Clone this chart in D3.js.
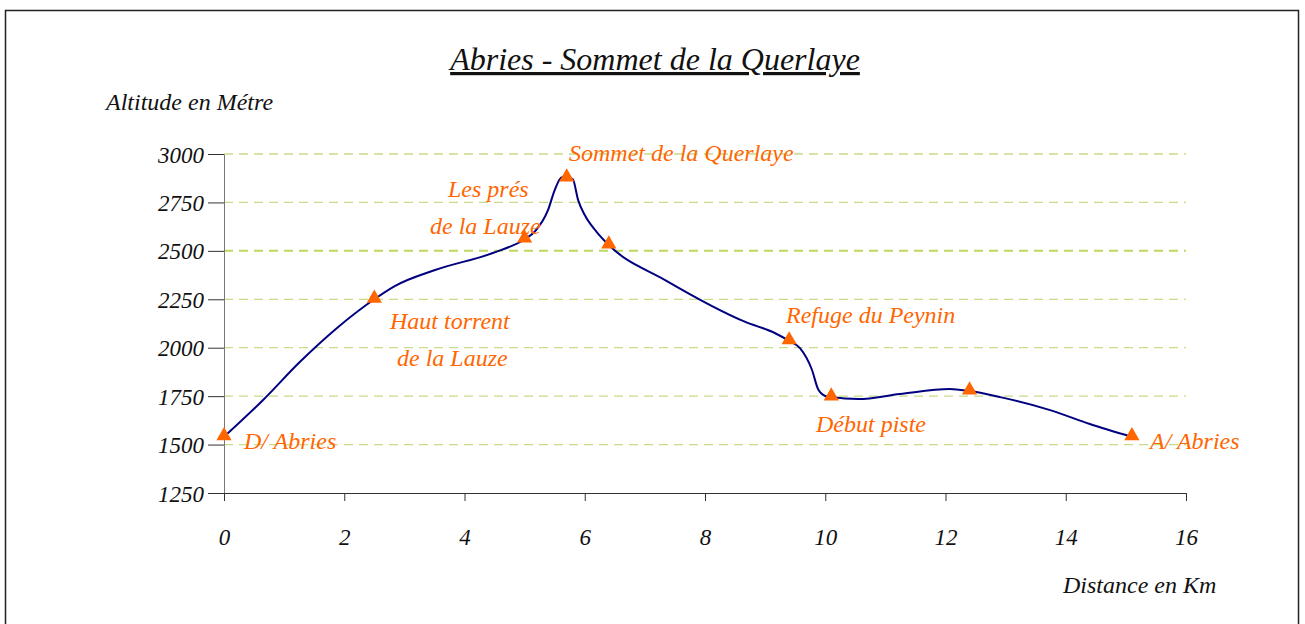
<!DOCTYPE html>
<html>
<head>
<meta charset="utf-8">
<script src="https://cdn.jsdelivr.net/npm/d3@7"></script>
<style>
  body { margin: 0; background: #fff; }
  text { font-family: "Liberation Serif", serif; font-style: italic; }
</style>
</head>
<body>
<svg id="chart" width="1305" height="624"></svg>
<script>
// profil : distance (km) / altitude (m)
let distances = [0, 0.65, 1.26, 1.88, 2.5, 2.84, 3.51, 4.47, 5.0, 5.17, 5.39, 5.5, 5.62, 5.7, 5.8, 5.89, 6.0, 6.2, 6.4, 7.33, 8.67, 9.16, 9.4, 9.58, 9.78, 9.88, 10.0, 10.1, 10.55, 11.24, 12.07, 12.4, 12.91, 13.74, 14.4, 15.1];
let altitudes = [1540, 1730, 1926, 2102, 2250, 2318, 2401, 2489, 2560, 2600, 2711, 2814, 2880, 2878, 2870, 2762, 2685, 2597, 2530, 2350, 2133, 2076, 2035, 1998, 1885, 1787, 1751, 1745, 1735, 1761, 1787, 1776, 1745, 1678, 1606, 1540];

// points de passage
let etapes = ["D/ Abries", "Haut torrent\nde la Lauze", "Les prés\nde la Lauze", "Sommet de la Querlaye", "", "Refuge du Peynin", "Début piste", "", "A/ Abries"];
let etapesKm = [0, 2.5, 5.0, 5.7, 6.4, 9.4, 10.1, 12.4, 15.1];
let etapesAlt = [1540, 2250, 2560, 2876, 2530, 2035, 1745, 1776, 1540];

let xTicks = [0, 2, 4, 6, 8, 10, 12, 14, 16];
let yTicks = [1250, 1500, 1750, 2000, 2250, 2500, 2750, 3000];

let svg = d3.select("#chart");

// cadre
svg.append("rect")
  .attr("x", 5.5).attr("y", 10.5)
  .attr("width", 1293).attr("height", 630)
  .attr("fill", "none").attr("stroke", "#222").attr("stroke-width", 1.5);

let x = d3.scaleLinear().domain([0, 16]).range([224, 1186]);
let y = d3.scaleLinear().domain([1250, 3000]).range([493, 154]);

// grille
svg.append("g").selectAll("line")
  .data(yTicks.filter(d => d > 1250))
  .enter().append("line")
  .attr("x1", x(0)).attr("x2", x(16))
  .attr("y1", d => y(d)).attr("y2", d => y(d))
  .attr("stroke", d => d == 2500 ? "#bcd862" : "#c8dc88")
  .attr("stroke-width", d => d == 2500 ? 2 : 1.3)
  .attr("stroke-dasharray", "9,6");

// axes
let yAxis = svg.append("g")
  .attr("transform", "translate(" + x(0) + ",0)")
  .call(d3.axisLeft(y).tickValues(yTicks).tickFormat(d3.format("d")).tickSize(16).tickPadding(4).tickSizeOuter(0));
yAxis.select(".domain").attr("stroke", "#777");
yAxis.selectAll(".tick line").attr("stroke", "#333");
yAxis.selectAll("text")
  .attr("font-size", 23).attr("fill", "#111")
  .attr("font-family", "Liberation Serif").attr("dy", "0.35em");

let xAxis = svg.append("g")
  .attr("transform", "translate(0," + y(1250) + ")")
  .call(d3.axisBottom(x).tickValues(xTicks).tickFormat(d3.format("d")).tickSize(8).tickPadding(28).tickSizeOuter(0));
xAxis.select(".domain").attr("stroke", "#333");
xAxis.selectAll(".tick line").attr("stroke", "#333");
xAxis.selectAll("text")
  .attr("font-size", 23).attr("fill", "#111")
  .attr("font-family", "Liberation Serif");

// courbe
let line = d3.line()
  .x((d, i) => x(distances[i]))
  .y(d => y(d))
  .curve(d3.curveMonotoneX);

svg.append("path")
  .attr("d", line(altitudes))
  .attr("fill", "none")
  .attr("stroke", "#000080")
  .attr("stroke-width", 2);

// marqueurs
svg.append("g").selectAll("path")
  .data(etapesKm)
  .enter().append("path")
  .attr("d", d3.symbol().type(d3.symbolTriangle).size(100))
  .attr("transform", (d, i) => "translate(" + x(d) + "," + (y(etapesAlt[i]) - 1) + ")")
  .attr("fill", "#ff6600");

// etiquettes
let labelPos = [[244, 449], [390, 329], [430, 197], [569, 161], null, [786, 323], [816, 432], null, [1150, 449]];
etapes.forEach(function(t, i) {
  if (!t) return;
  let lines = t.split("\n");
  let txt = svg.append("text")
    .attr("fill", "#ff6600")
    .attr("font-size", 24);
  lines.forEach(function(l, j) {
    let dx = 0;
    if (i == 1 && j == 1) dx = 7;
    if (i == 2 && j == 0) dx = 18;
    txt.append("tspan")
      .attr("x", labelPos[i][0] + dx)
      .attr("y", labelPos[i][1] + j * 37)
      .text(l);
  });
});

// titres
svg.append("text")
  .attr("x", 655).attr("y", 70)
  .attr("text-anchor", "middle")
  .attr("font-size", 32)
  .attr("text-decoration", "underline")
  .attr("fill", "#111")
  .text("Abries - Sommet de la Querlaye");

svg.append("text")
  .attr("x", 106).attr("y", 110)
  .attr("font-size", 24)
  .attr("fill", "#111")
  .text("Altitude en Métre");

svg.append("text")
  .attr("x", 1063).attr("y", 593)
  .attr("font-size", 24)
  .attr("fill", "#111")
  .text("Distance en Km");
</script>
</body>
</html>
